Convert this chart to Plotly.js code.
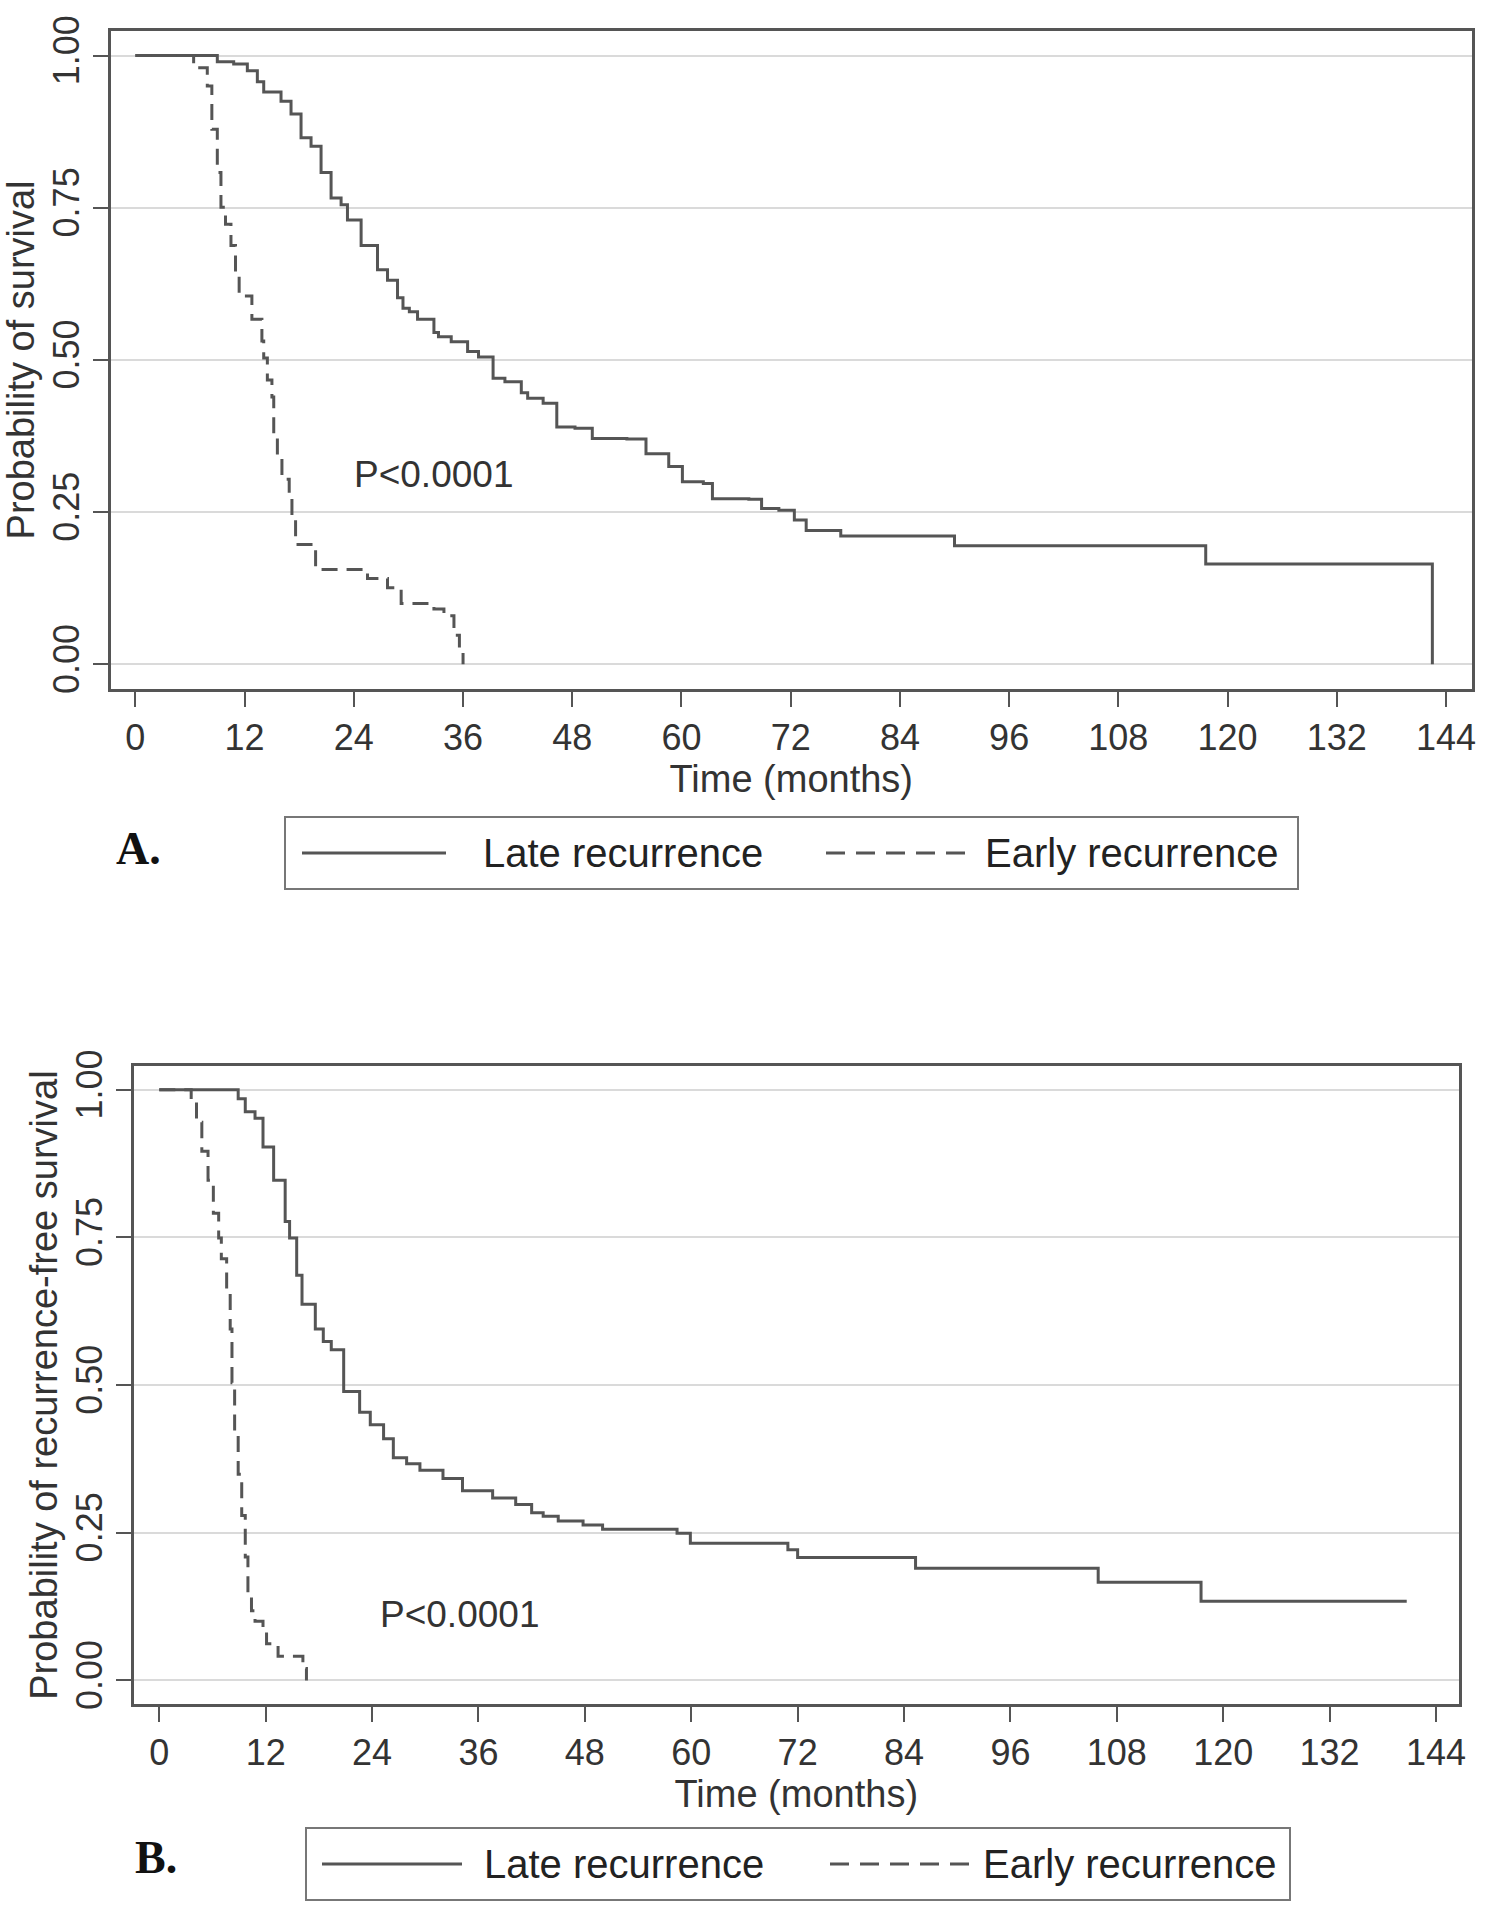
<!DOCTYPE html>
<html>
<head>
<meta charset="utf-8">
<script src="https://cdn.plot.ly/plotly-3.0.1.min.js"></script>
<style>
  html, body { margin: 0; padding: 0; background: #fff; }
  #plot { width: 1500px; height: 1913px; }
</style>
</head>
<body>
<div id="plot"></div>
<script>
// ticks shared by both panels
const xTicks = [0, 12, 24, 36, 48, 60, 72, 84, 96, 108, 120, 132, 144];
const yTicks = [0, 0.25, 0.5, 0.75, 1];

// panel A: overall survival (months, probability)
const aLateT = [0, 9.0, 10.8, 12.3, 13.4, 14.1, 16.0, 17.1, 18.2, 19.3, 20.4, 21.5, 22.6, 23.3, 24.8, 26.6, 27.7, 28.8, 29.4, 30.1, 31.0, 32.8, 33.3, 34.7, 36.5, 37.7, 39.3, 40.6, 42.4, 43.1, 44.8, 46.3, 48.3, 50.2, 54.0, 56.1, 58.6, 60.1, 62.4, 63.4, 67.4, 68.8, 70.7, 72.4, 73.7, 77.5, 90.0, 117.6, 142.5];
const aLateS = [1, 0.99, 0.986, 0.975, 0.957, 0.94, 0.925, 0.904, 0.865, 0.851, 0.808, 0.766, 0.755, 0.73, 0.688, 0.648, 0.631, 0.602, 0.585, 0.579, 0.567, 0.545, 0.538, 0.53, 0.514, 0.505, 0.47, 0.464, 0.446, 0.437, 0.429, 0.39, 0.388, 0.371, 0.37, 0.346, 0.325, 0.3, 0.297, 0.272, 0.271, 0.256, 0.253, 0.237, 0.22, 0.211, 0.195, 0.165, 0];
const aEarlyT = [0, 6.4, 7.9, 8.4, 9.0, 9.4, 9.9, 10.5, 11.0, 11.4, 12.8, 13.9, 14.1, 14.5, 15.0, 15.2, 15.6, 16.1, 16.9, 17.2, 17.6, 19.8, 25.5, 27.7, 29.2, 32.8, 33.9, 35.0, 35.6, 36.0];
const aEarlyS = [1, 0.98, 0.95, 0.879, 0.808, 0.751, 0.723, 0.688, 0.645, 0.605, 0.567, 0.531, 0.503, 0.467, 0.439, 0.375, 0.339, 0.304, 0.276, 0.24, 0.197, 0.156, 0.141, 0.126, 0.1, 0.091, 0.08, 0.048, 0.023, 0];

// panel B: recurrence-free survival
const bLateT = [0, 8.9, 9.7, 10.8, 11.7, 12.9, 14.2, 14.7, 15.5, 16.1, 17.6, 18.5, 19.4, 20.8, 22.6, 23.8, 25.3, 26.4, 27.9, 29.4, 32.0, 34.2, 37.6, 40.2, 42.0, 43.3, 45.0, 47.8, 50.0, 58.4, 59.9, 70.9, 72.0, 85.3, 105.9, 117.5, 140.7];
const bLateS = [1, 0.985, 0.963, 0.952, 0.903, 0.847, 0.777, 0.749, 0.686, 0.637, 0.595, 0.574, 0.56, 0.489, 0.454, 0.433, 0.409, 0.377, 0.367, 0.356, 0.342, 0.321, 0.309, 0.298, 0.284, 0.278, 0.27, 0.263, 0.256, 0.249, 0.232, 0.221, 0.208, 0.19, 0.166, 0.134, 0.134];
const bEarlyT = [0, 3.6, 4.2, 4.8, 5.5, 6.1, 6.7, 7.0, 7.6, 8.0, 8.2, 8.5, 8.9, 9.3, 9.7, 10.0, 10.4, 10.8, 11.7, 12.1, 13.4, 16.2, 16.6];
const bEarlyS = [1, 0.98, 0.945, 0.896, 0.847, 0.791, 0.749, 0.714, 0.658, 0.595, 0.504, 0.419, 0.349, 0.279, 0.209, 0.146, 0.118, 0.1, 0.09, 0.062, 0.041, 0.02, 0];

const seriesNames = ['Late recurrence', 'Early recurrence'];
const pText = 'P<0.0001';

const INK = '#555';
const FONT = 'Liberation Sans, Arial, sans-serif';
const W = 1500, H = 1913;

// pixel helpers for the page furniture (legend boxes, panel letters)
const px = v => v / W;
const py = v => 1 - v / H;

function kmTrace(t, s, dashed, xa, ya, name) {
  return {
    x: t, y: s, xaxis: xa, yaxis: ya, name: name,
    type: 'scatter', mode: 'lines',
    line: { shape: 'hv', color: INK, width: 3, dash: dashed ? '16px,9px' : 'solid' },
    hoverinfo: 'skip'
  };
}

const traces = [
  kmTrace(aLateT, aLateS, false, 'x', 'y', seriesNames[0]),
  kmTrace(aEarlyT, aEarlyS, true, 'x', 'y', seriesNames[1]),
  kmTrace(bLateT, bLateS, false, 'x2', 'y2', seriesNames[0]),
  kmTrace(bEarlyT, bEarlyS, true, 'x2', 'y2', seriesNames[1])
];

function xAxis(domain, range, anchor, standoff) {
  return {
    domain: domain, range: range, anchor: anchor,
    tickmode: 'array', tickvals: xTicks,
    ticks: 'outside', ticklen: 15, tickwidth: 2, tickcolor: INK,
    tickfont: { size: 36, color: '#333' },
    showline: true, mirror: true, linecolor: INK, linewidth: 3,
    showgrid: false, zeroline: false,
    title: { text: 'Time (months)', font: { size: 38, color: '#333' }, standoff: standoff }
  };
}

function yAxis(domain, anchor, label, standoff) {
  return {
    domain: domain, range: [-0.04, 1.04], anchor: anchor,
    tickmode: 'array', tickvals: yTicks, tickformat: '.2f', tickangle: -90,
    ticks: 'outside', ticklen: 15, tickwidth: 2, tickcolor: INK,
    tickfont: { size: 36, color: '#333' },
    showline: true, mirror: true, linecolor: INK, linewidth: 3,
    showgrid: true, gridcolor: '#dadada', gridwidth: 2, zeroline: false,
    title: { text: label, font: { size: 38, color: '#333' }, standoff: standoff }
  };
}

// legend drawn by hand: Stata style, long sample lines in a framed box
function legend(box, solid, dashed, text1, text2) {
  const mid = (box.top + box.bottom) / 2;
  const shapes = [
    { type: 'rect', xref: 'paper', yref: 'paper', x0: px(box.left), x1: px(box.right), y0: py(box.bottom), y1: py(box.top),
      line: { color: '#777', width: 2 }, fillcolor: 'rgba(0,0,0,0)' },
    { type: 'line', xref: 'paper', yref: 'paper', x0: px(solid[0]), x1: px(solid[1]), y0: py(mid), y1: py(mid),
      line: { color: INK, width: 3 } },
    { type: 'line', xref: 'paper', yref: 'paper', x0: px(dashed[0]), x1: px(dashed[1]), y0: py(mid), y1: py(mid),
      line: { color: INK, width: 3, dash: '19px,11px' } }
  ];
  const notes = [
    { xref: 'paper', yref: 'paper', x: px(text1), y: py(mid), xanchor: 'left', yanchor: 'middle',
      text: seriesNames[0], showarrow: false, font: { family: FONT, size: 40, color: '#222' } },
    { xref: 'paper', yref: 'paper', x: px(text2), y: py(mid), xanchor: 'left', yanchor: 'middle',
      text: seriesNames[1], showarrow: false, font: { family: FONT, size: 40, color: '#222' } }
  ];
  return { shapes, notes };
}

const legA = legend({ top: 817, bottom: 889, left: 285, right: 1298 }, [302, 446], [826, 970], 481, 983);
const legB = legend({ top: 1828, bottom: 1900, left: 306, right: 1290 }, [322, 462], [830, 972], 482, 981);

const layout = {
  width: W, height: H,
  margin: { l: 0, r: 0, t: 0, b: 0 },
  paper_bgcolor: '#fff', plot_bgcolor: '#fff',
  font: { family: FONT, color: '#333' },
  showlegend: false,

  xaxis: xAxis([px(111), px(1471.5)], [-2.68, 146.8], 'y', 2),
  yaxis: yAxis([py(688.7), py(31.2)], 'x', 'Probability of survival', 8),
  xaxis2: xAxis([px(134), px(1458.6)], [-2.85, 146.55], 'y2', 0),
  yaxis2: yAxis([py(1704), py(1066.2)], 'x2', 'Probability of recurrence-free survival', 0),

  shapes: legA.shapes.concat(legB.shapes),

  annotations: [
    { xref: 'x', yref: 'y', x: 32.8, y: 0.312, text: pText, showarrow: false,
      font: { family: FONT, size: 37, color: '#333' } },
    { xref: 'x2', yref: 'y2', x: 33.9, y: 0.112, text: pText, showarrow: false,
      font: { family: FONT, size: 37, color: '#333' } },
    { xref: 'paper', yref: 'paper', x: px(114), y: py(849), xanchor: 'left', yanchor: 'middle',
      text: '<b>A.</b>', showarrow: false,
      font: { family: 'Liberation Serif, Times New Roman, serif', size: 46, color: '#111' } },
    { xref: 'paper', yref: 'paper', x: px(133), y: py(1857), xanchor: 'left', yanchor: 'middle',
      text: '<b>B.</b>', showarrow: false,
      font: { family: 'Liberation Serif, Times New Roman, serif', size: 46, color: '#111' } }
  ].concat(legA.notes, legB.notes)
};

Plotly.newPlot('plot', traces, layout, { displayModeBar: false, staticPlot: true });
</script>
</body>
</html>
